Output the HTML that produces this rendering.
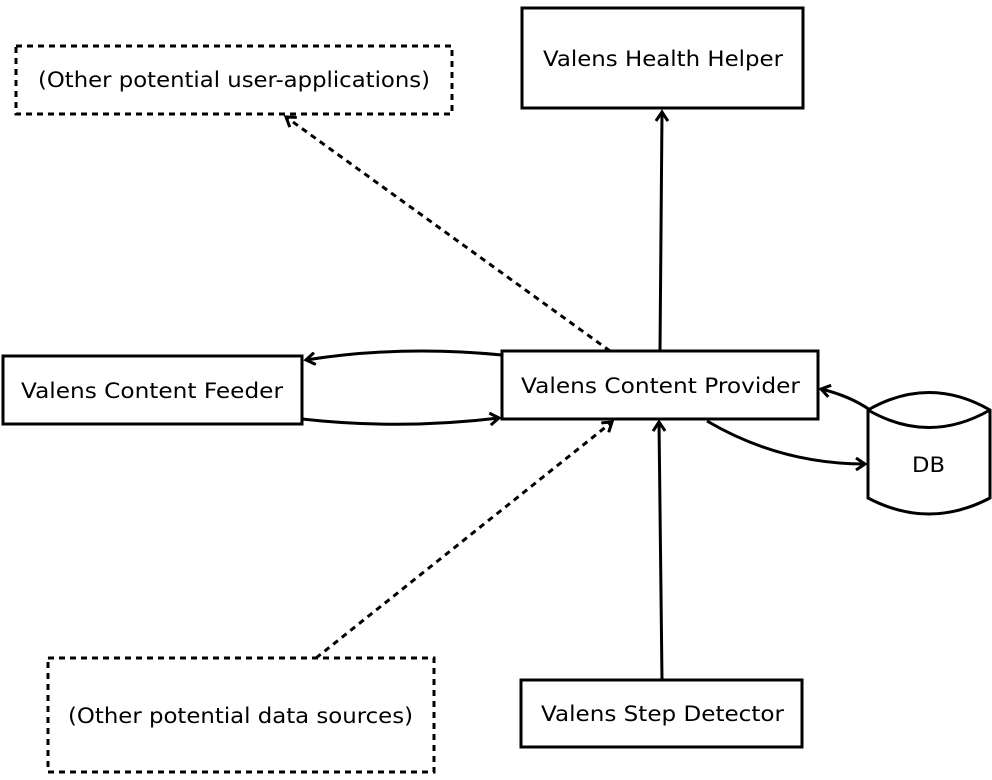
<!DOCTYPE html>
<html><head><meta charset="utf-8"><style>
html,body{margin:0;padding:0;background:#fff;}
svg{display:block;}
text{font-family:"DejaVu Sans","Liberation Sans",sans-serif;font-size:21px;fill:#000;}
</style></head><body>
<svg width="992" height="780" viewBox="0 0 992 780" xmlns="http://www.w3.org/2000/svg">
<defs>
<marker id="a" markerWidth="14" markerHeight="14" refX="11" refY="7" orient="auto" markerUnits="userSpaceOnUse">
<path d="M2,1 L11,7 L2,13" fill="none" stroke="#000" stroke-width="3"/>
</marker>
</defs>
<g fill="none" stroke="#000" stroke-width="3">
<rect x="16" y="46" width="436" height="68" stroke-dasharray="6,5"/>
<rect x="522" y="8" width="281" height="100"/>
<rect x="3" y="356" width="299" height="68"/>
<rect x="502" y="351" width="316" height="68"/>
<rect x="48" y="658" width="386" height="114" stroke-dasharray="6,5"/>
<rect x="521" y="680" width="281" height="67"/>
<path d="M868,410 Q929,375 990,410 L990,498 Q929,530 868,498 Z"/>
<path d="M868,410 Q929,445 990,410"/>
<path d="M660,351 L662,112" marker-end="url(#a)"/>
<path d="M610,351 L286,117" stroke-dasharray="6,5" marker-end="url(#a)"/>
<path d="M502,355 Q400,345 306,360" marker-end="url(#a)"/>
<path d="M302,419 Q400,430 499,418" marker-end="url(#a)"/>
<path d="M707,421 Q780,464 865,464" marker-end="url(#a)"/>
<path d="M870,410 Q850,396 821,389" marker-end="url(#a)"/>
<path d="M662,680 L659,422" marker-end="url(#a)"/>
<path d="M316,658 L612,422" stroke-dasharray="6,5" marker-end="url(#a)"/>
</g>
<text x="38" y="87" textLength="392" lengthAdjust="spacingAndGlyphs">(Other potential user-applications)</text>
<text x="543" y="66" textLength="240" lengthAdjust="spacingAndGlyphs">Valens Health Helper</text>
<text x="21" y="398" textLength="262" lengthAdjust="spacingAndGlyphs">Valens Content Feeder</text>
<text x="521" y="393" textLength="279" lengthAdjust="spacingAndGlyphs">Valens Content Provider</text>
<text x="912" y="472" textLength="33" lengthAdjust="spacingAndGlyphs">DB</text>
<text x="68" y="723" textLength="345" lengthAdjust="spacingAndGlyphs">(Other potential data sources)</text>
<text x="541" y="721" textLength="243" lengthAdjust="spacingAndGlyphs">Valens Step Detector</text>
</svg>
</body></html>
